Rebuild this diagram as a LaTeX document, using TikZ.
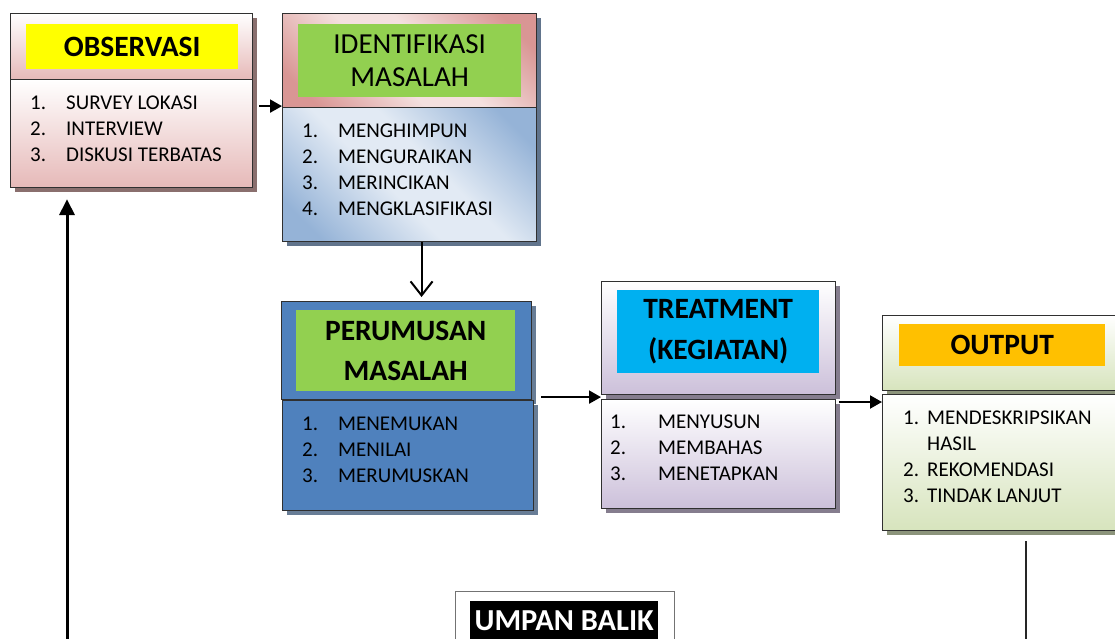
\documentclass[tikz,border=0pt]{standalone}
\usepackage{fontspec}
\setmainfont{Carlito}
\usetikzlibrary{arrows.meta,shadows}
\definecolor{pinkB}{HTML}{E6B9B8}
\definecolor{identPink}{HTML}{D99694}
\definecolor{identLight}{HTML}{F4E0DF}
\definecolor{blueD}{HTML}{95B3D7}
\definecolor{blueL}{HTML}{E2EAF4}
\definecolor{perBlue}{HTML}{4F81BD}
\definecolor{titleGreen}{HTML}{92D050}
\definecolor{lav}{HTML}{CCC0DA}
\definecolor{olive}{HTML}{D7E4BD}
\definecolor{cyanT}{HTML}{00B0F0}
\definecolor{orangeT}{HTML}{FFC000}
\definecolor{yellowT}{HTML}{FFFF00}
\definecolor{bord}{HTML}{303030}
\pgfdeclarehorizontalshading{idpinkshade}{100bp}{color(0bp)=(identPink); color(22bp)=(identPink); color(44bp)=(identLight); color(56bp)=(identLight); color(78bp)=(identPink); color(100bp)=(identPink)}
\pgfdeclarehorizontalshading{idblueshade}{100bp}{color(0bp)=(blueD); color(22bp)=(blueD); color(44bp)=(blueL); color(56bp)=(blueL); color(78bp)=(blueD); color(100bp)=(blueD)}
\begin{document}
\begin{tikzpicture}[x=1pt,y=-1pt,
  box/.style={draw=bord,line width=1.1pt,inner sep=0pt,anchor=north west},
  shad/.style={drop shadow={shadow xshift=4pt,shadow yshift=-4pt,opacity=1,fill=#1}},
  ttl/.style={inner sep=0pt,anchor=north west,align=center,font=\fontsize{29}{33}\selectfont},
  ttlb/.style={ttl,font=\fontsize{29.5}{40}\bfseries\selectfont},
  lst/.style={inner sep=0pt,anchor=north west,font=\fontsize{21}{26}\selectfont},
  arr/.style={line width=2pt,-{Triangle[length=12pt,width=13pt]}},
  varr/.style={line width=2pt,-{Straight Barb[length=14pt,width=22pt,line width=2pt]}},
  thick3/.style={line width=3pt,-{Triangle[length=16pt,width=15pt]}}
]
\useasboundingbox (0,0) rectangle (1115,639);

% OBSERVASI
\node[box,shad=black!40!pinkB,top color=white,bottom color=pinkB,minimum width=242pt,minimum height=66pt] (obsH) at (10,13) {};
\node[box,shad=black!40!pinkB,top color=white,bottom color=pinkB,minimum width=242pt,minimum height=108pt] (obsB) at (10,79) {};
\node[ttlb,fill=yellowT,minimum width=212pt,minimum height=45pt] (obsT) at (26,24) {OBSERVASI};
\node[lst] (obsL) at (30,91) {\begin{tabular}{@{}p{36pt}@{}l@{}}1. & SURVEY LOKASI\\ 2. & INTERVIEW\\ 3. & DISKUSI TERBATAS\end{tabular}};

% IDENTIFIKASI
\node[box,shad=black!35!blueD,shading=idpinkshade,shading angle=45,minimum width=254pt,minimum height=94pt] (idH) at (282,13) {};
\node[box,shad=black!35!blueD,shading=idblueshade,shading angle=45,minimum width=254pt,minimum height=134pt] (idB) at (282,107) {};
\node[ttl,fill=titleGreen,minimum width=223pt,minimum height=73pt] (idT) at (298,24) {IDENTIFIKASI\\MASALAH};
\node[lst] (idL) at (302,119) {\begin{tabular}{@{}p{36pt}@{}l@{}}1. & MENGHIMPUN\\ 2. & MENGURAIKAN\\ 3. & MERINCIKAN\\ 4. & MENGKLASIFIKASI\end{tabular}};

% PERUMUSAN
\node[box,shad=black!30!blueD,fill=perBlue,minimum width=250pt,minimum height=98pt] (perH) at (281,301) {};
\node[box,shad=black!30!blueD,fill=perBlue,minimum width=251pt,minimum height=110pt] (perB) at (282,400) {};
\node[ttlb,fill=titleGreen,minimum width=219pt,minimum height=81pt] (perT) at (296,310) {PERUMUSAN\\MASALAH};
\node[lst] (perL) at (302,412) {\begin{tabular}{@{}p{36pt}@{}l@{}}1. & MENEMUKAN\\ 2. & MENILAI\\ 3. & MERUMUSKAN\end{tabular}};

% TREATMENT
\node[box,shad=black!35!lav,top color=white,bottom color=lav,minimum width=234pt,minimum height=113pt] (trH) at (601,281) {};
\node[box,shad=black!35!lav,top color=white,bottom color=lav,minimum width=234pt,minimum height=109pt] (trB) at (601,399) {};
\node[ttlb,font=\fontsize{29.5}{41}\bfseries\selectfont,fill=cyanT,minimum width=202pt,minimum height=83pt] (trT) at (617,290) {TREATMENT\\(KEGIATAN)};
\node[lst] (trL) at (610,410) {\begin{tabular}{@{}p{48pt}@{}l@{}}1. & MENYUSUN\\ 2. & MEMBAHAS\\ 3. & MENETAPKAN\end{tabular}};

% OUTPUT
\node[box,shad=black!35!olive,top color=white,bottom color=olive,minimum width=240pt,minimum height=75pt] (outH) at (882,315) {};
\node[box,shad=black!35!olive,top color=white,bottom color=olive,minimum width=240pt,minimum height=136pt] (outB) at (882,394) {};
\node[ttlb,fill=orangeT,minimum width=206pt,minimum height=42pt] (outT) at (899,324) {OUTPUT};
\node[lst] (outL) at (903,406) {\begin{tabular}{@{}p{24pt}@{}l@{}}1. & MENDESKRIPSIKAN\\ & HASIL\\ 2. & REKOMENDASI\\ 3. & TINDAK LANJUT\end{tabular}};

% UMPAN BALIK
\node[box,draw=black!55,line width=1pt,fill=white,minimum width=219pt,minimum height=60pt] (ubBox) at (455,591) {};
\node[inner sep=0pt,anchor=north west,fill=black,text=white,font=\fontsize{30.5}{32}\bfseries\selectfont,minimum width=188pt,minimum height=40pt] (ubT) at (470,601) {UMPAN BALIK};

% connectors
\draw[arr] ([xshift=6pt,yshift=2pt]obsB.east |- idH.south west) -- ([yshift=2pt]idH.south west);
\draw[varr] ([xshift=12pt]idB.south) -- ([xshift=12pt,yshift=4pt]idB.south |- perH.north);
\draw[arr] ([xshift=9pt,yshift=3pt]perH.south east) -- ([yshift=3pt]perH.south east -| trB.west);
\draw[arr] ([xshift=3pt,yshift=-3pt]trB.north east) -- ([yshift=-3pt]trB.north east -| outB.west);
\coordinate (fbL) at (67,645);
\coordinate (fbR) at (1026,645);
\draw[line width=1.3pt,black!85] (fbR) -- ([yshift=-10pt]outB.south -| fbR);
\draw[thick3] (fbL) -- ([yshift=-11pt]obsB.south -| fbL);
\end{tikzpicture}
\end{document}
